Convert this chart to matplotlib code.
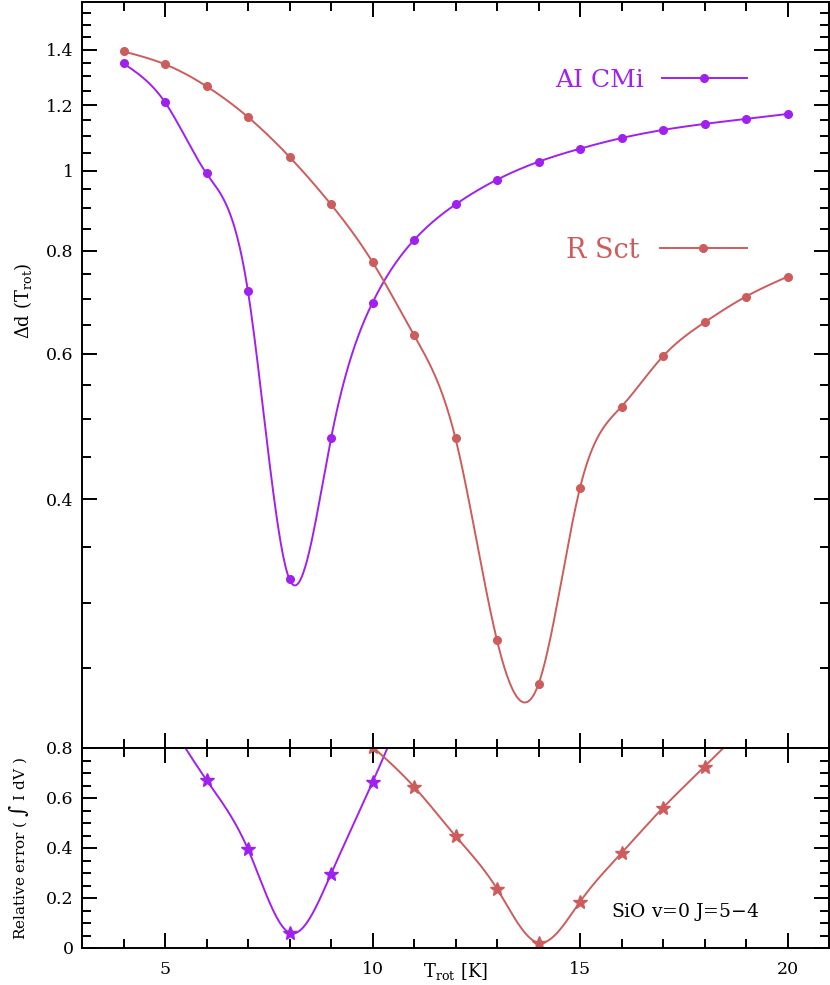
import numpy as np
import matplotlib
matplotlib.use("Agg")
import matplotlib.pyplot as plt
from matplotlib.ticker import FixedLocator, NullFormatter, MultipleLocator
from matplotlib.lines import Line2D

# ---------------- data ----------------
t_top = [4, 5, 6, 7, 8, 9, 10, 11, 12, 13, 14, 15, 16, 17, 18, 19, 20]
aicmi_dd = [1.348, 1.210, 0.992, 0.714, 0.320, 0.474, 0.692, 0.824, 0.910,
            0.975, 1.025, 1.063, 1.095, 1.120, 1.139, 1.155, 1.171]
rsct_dd = [1.394, 1.345, 1.265, 1.161, 1.039, 0.910, 0.775, 0.632, 0.474,
           0.270, 0.239, 0.413, 0.518, 0.596, 0.655, 0.704, 0.744]

t_err_aicmi = [5, 6, 7, 8, 9, 10, 11]
aicmi_err = [0.93, 0.672, 0.395, 0.061, 0.296, 0.663, 1.05]
t_err_rsct = [10, 11, 12, 13, 14, 15, 16, 17, 18, 19]
rsct_err = [0.805, 0.645, 0.448, 0.237, 0.021, 0.185, 0.380, 0.561, 0.725, 0.89]

top_ticks = [0.4, 0.6, 0.8, 1.0, 1.2, 1.4]
top_tick_labels = ["0.4", "0.6", "0.8", "1", "1.2", "1.4"]
bot_ticks = [0, 0.2, 0.4, 0.6, 0.8]
bot_tick_labels = ["0", "0.2", "0.4", "0.6", "0.8"]
x_ticks = [5, 10, 15, 20]

PURPLE = "#A020F0"
RED = "#CD5C5C"


def natural_spline(x, y, n=600):
    """Smooth drawing curve through the data (natural cubic spline)."""
    x = np.asarray(x, float)
    y = np.asarray(y, float)
    k = len(x)
    h = np.diff(x)
    A = np.zeros((k, k))
    b = np.zeros(k)
    A[0, 0] = 1
    A[-1, -1] = 1
    for i in range(1, k - 1):
        A[i, i - 1] = h[i - 1]
        A[i, i] = 2 * (h[i - 1] + h[i])
        A[i, i + 1] = h[i]
        b[i] = 6 * ((y[i + 1] - y[i]) / h[i] - (y[i] - y[i - 1]) / h[i - 1])
    M = np.linalg.solve(A, b)
    xs = np.linspace(x[0], x[-1], n)
    idx = np.clip(np.searchsorted(x, xs) - 1, 0, k - 2)
    x0, x1 = x[idx], x[idx + 1]
    hh = x1 - x0
    a = (x1 - xs) / hh
    bb = (xs - x0) / hh
    ys = (a * y[idx] + bb * y[idx + 1]
          + ((a ** 3 - a) * M[idx] + (bb ** 3 - bb) * M[idx + 1]) * hh ** 2 / 6)
    return xs, ys


plt.rcParams['font.family'] = ['DejaVu Serif', 'DejaVu Sans']
plt.rcParams['mathtext.fontset'] = 'dejavuserif'

fig = plt.figure(figsize=(8.30, 9.85), dpi=100)
L = 82 / 830
W = 747 / 830
ax1 = fig.add_axes([L, 1 - 748 / 985, W, 746 / 985])
ax2 = fig.add_axes([L, 1 - 948 / 985, W, 200 / 985])

lw = 1.4
# ---- top panel (smooth curve drawn in log space, matching the log axis) ----
for y, c in ((aicmi_dd, PURPLE), (rsct_dd, RED)):
    xs, ys = natural_spline(t_top, np.log10(y))
    ax1.plot(xs, 10 ** ys, color=c, lw=lw)
    ax1.plot(t_top, y, 'o', color=c, ms=5.5, mec=c)

ax1.set_yscale('log')
ax1.set_ylim(0.2, 1.6)
ax1.set_xlim(3, 21)
ax1.yaxis.set_major_locator(FixedLocator(top_ticks))
ax1.set_yticklabels(top_tick_labels)
minor_top = [v for v in np.round(np.arange(0.25, 1.6, 0.05), 2) if v not in top_ticks]
ax1.yaxis.set_minor_locator(FixedLocator(minor_top))
ax1.yaxis.set_minor_formatter(NullFormatter())
ax1.xaxis.set_major_locator(FixedLocator(x_ticks))
ax1.xaxis.set_minor_locator(MultipleLocator(1))
ax1.tick_params(axis='x', labelbottom=False)
ax1.set_ylabel(r"$\Delta$d (T$_{\rm rot}$)", fontsize=13)
ax1.yaxis.set_label_coords(-0.064, 0.6)

# legends (text before the handle)
h1 = Line2D([], [], color=PURPLE, lw=lw, marker='o', ms=5.5)
h2 = Line2D([], [], color=RED, lw=lw, marker='o', ms=5.5)
leg1 = ax1.legend([h1], ["AI CMi"], loc='center right', bbox_to_anchor=(0.89, 0.895),
                  frameon=False, markerfirst=False, numpoints=1, handlelength=3.4,
                  handletextpad=0.7, borderpad=0, borderaxespad=0, fontsize=18,
                  labelcolor=PURPLE)
ax1.add_artist(leg1)
ax1.legend([h2], ["R Sct"], loc='center right', bbox_to_anchor=(0.89, 0.667),
           frameon=False, markerfirst=False, numpoints=1, handlelength=3.2,
           handletextpad=0.75, borderpad=0, borderaxespad=0, fontsize=19.5,
           labelcolor=RED)

# ---- bottom panel ----
for xx, y, c in ((t_err_aicmi, aicmi_err, PURPLE), (t_err_rsct, rsct_err, RED)):
    xs, ys = natural_spline(xx, y)
    ax2.plot(xs, ys, color=c, lw=lw)
    ax2.plot(xx, y, '*', color=c, ms=10, mec=c)

ax2.set_xlim(3, 21)
ax2.set_ylim(0, 0.8)
ax2.yaxis.set_major_locator(FixedLocator(bot_ticks))
ax2.set_yticklabels(bot_tick_labels)
ax2.yaxis.set_minor_locator(MultipleLocator(0.05))
ax2.xaxis.set_major_locator(FixedLocator(x_ticks))
ax2.set_xticklabels([str(v) for v in x_ticks])
ax2.xaxis.set_minor_locator(MultipleLocator(1))
ax2.set_ylabel(r"Relative error ( $\int$ I dV )", fontsize=11)
ax2.yaxis.set_label_coords(-0.068, 0.5)
ax2.text(0.5, -0.115, r"T$_{\rm rot}$ [K]", transform=ax2.transAxes,
         ha='center', va='center', fontsize=13)
ax2.text(0.807, 0.18, "SiO v=0 J=5$-$4", transform=ax2.transAxes,
         ha='center', va='center', fontsize=13.5)

for ax in (ax1, ax2):
    for s in ax.spines.values():
        s.set_linewidth(1.4)
    ax.tick_params(which='both', direction='in', top=True, right=True,
                   width=1.4, labelsize=12.5, pad=6)
    ax.tick_params(which='major', length=11)
    ax.tick_params(which='minor', length=6.5)
ax2.tick_params(axis='x', pad=9)

fig.savefig("out.png", dpi=100)
